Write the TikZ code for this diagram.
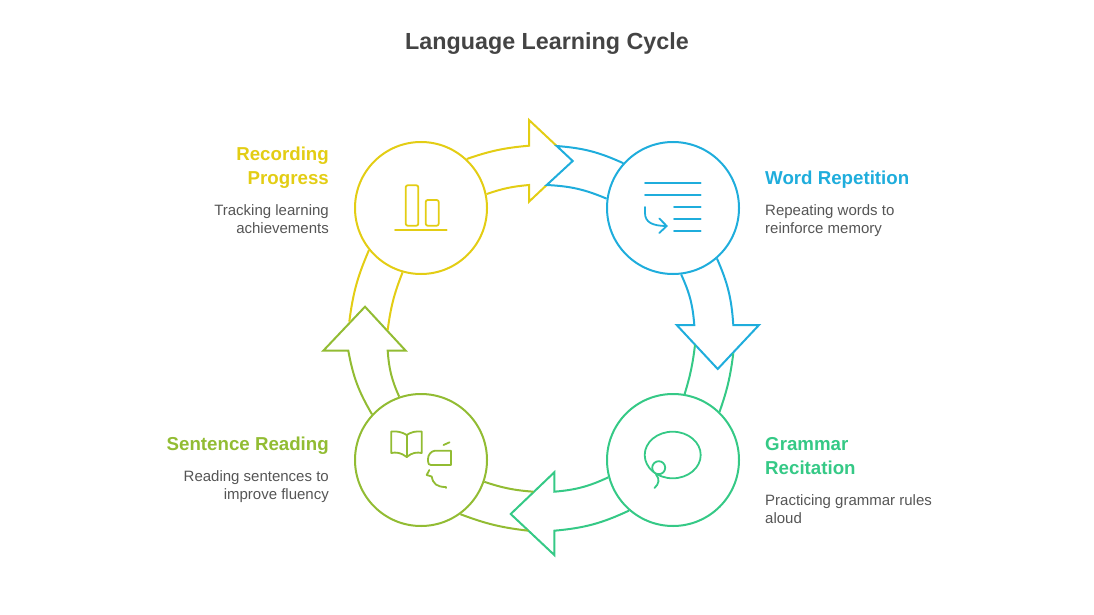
\documentclass[tikz,border=0pt]{standalone}
\usepackage{fontspec}
\setmainfont{Liberation Sans}
\definecolor{recordcol}{HTML}{E3CD14}
\definecolor{wordcol}{HTML}{1FADDC}
\definecolor{grammarcol}{HTML}{35C986}
\definecolor{sentencecol}{HTML}{92BC33}
\definecolor{bodycol}{HTML}{555555}
\definecolor{titlecol}{HTML}{444444}
\tikzset{
  stage/.style={draw, circle, minimum size=132pt, inner sep=0pt, fill=none, line width=2pt},
  cyclearrow/.style={line width=2pt, line join=miter},
  glyph/.style={line width=1.8pt, line cap=round, line join=round},
  heading/.style={inner sep=0pt, font=\fontsize{18.7}{24}\selectfont\bfseries},
  blurb/.style={inner sep=0pt, text=bodycol, font=\fontsize{15}{18}\selectfont},
}

\begin{document}
\begin{tikzpicture}[x=1pt,y=-1pt]
  \useasboundingbox (0,0) rectangle (1094,615);

  \node [inner sep=0pt, text=titlecol, font=\fontsize{23.3}{28}\selectfont\bfseries, anchor=base]
    (title) at (547,50) {Language Learning Cycle};

  \node [stage, draw=recordcol] (record) at (421,208) {};
  \node [stage, draw=wordcol] (word) at (673,208) {};
  \node [stage, draw=grammarcol] (grammar) at (673,460) {};
  \node [stage, draw=sentencecol] (sentence) at (421,460) {};

  % yellow arrow, its tip sits under the blue one
  \draw [cyclearrow, recordcol]
  (record.47) to[bend left=7] (529,145.7) -- (529,120) -- (556.7,146);
  \draw [cyclearrow, recordcol]
  (record.12) to[bend left=7] (529,185) -- (529,201.7) -- (546.7,185);

  % blue arrow
  \draw [cyclearrow, wordcol]
  (word.138) to[bend right=10] (556.7,146) -- (572.7,161) -- (546.7,185) to[bend left=10] (word.172);
  \draw [cyclearrow, wordcol]
  (word.-49) to[bend left=10] (733.3,325) -- (759,325) -- (717.7,369) -- (676.7,325) -- (694.3,325) to[bend right=10] (word.-83);

  % green lines and arrow
  \draw [cyclearrow, grammarcol]
  (grammar.46) to[bend right=6] (733.3,353.3);
  \draw [cyclearrow, grammarcol]
  (grammar.80) to[bend right=5] (695,345);
  \draw [cyclearrow, grammarcol]
  (grammar.-165) to[bend left=10] (554.3,491.7) -- (554.3,472.3) -- (510.7,514) -- (554.3,555) -- (554.3,530.7) to[bend right=10] (grammar.-131);

  % olive lines and arrow
  \draw [cyclearrow, sentencecol]
  (sentence.-19) to[bend right=7] (533.3,491.7);
  \draw [cyclearrow, sentencecol]
  (sentence.-54) to[bend right=7] (528.3,530.7);
  \draw [cyclearrow, sentencecol]
  (sentence.137) to[bend left=10] (348.3,350.7) -- (323.3,350.7) -- (365,306.7) -- (405.7,350.7) -- (387.7,350.7) to[bend right=10] (sentence.109);

  % yellow lines from the olive arrow
  \draw [cyclearrow, recordcol]
  (record.-141) to[bend right=8] (349.3,321.7);
  \draw [cyclearrow, recordcol]
  (record.-106) to[bend right=7] (387.7,330);

  % record icon
  \draw [glyph, recordcol, rounded corners=2pt] (405.7,185.3) rectangle (418.3,225.7);
  \draw [glyph, recordcol, rounded corners=2pt] (425.7,200) rectangle (438.7,225.7);
  \draw [glyph, recordcol] (395,230.3) -- (446.7,230.3);

  % word icon
  \draw [glyph, wordcol] (645,183.3) -- (700.7,183.3);
  \draw [glyph, wordcol] (645,195.3) -- (700.7,195.3);
  \foreach \rowy in {207.3,219.3,231}
    \draw [glyph, wordcol] (674,\rowy) -- (700.7,\rowy);
  \draw [glyph, wordcol] (645,207) -- (645,213) .. controls (645,222) and (652,226) .. (666.7,226);
  \draw [glyph, wordcol] (659.3,218.5) -- (666.7,226) -- (659.3,233);

  % grammar icon
  \draw [glyph, grammarcol] (672.7,455) ellipse (28 and 23.3);
  \draw [glyph, grammarcol, fill=white] (658.7,467.7) circle (6.5);
  \draw [glyph, grammarcol] (656,474.5) .. controls (660,479) and (659,484) .. (654.5,488);

  % sentence icon
  \draw [glyph, sentencecol] (406.7,457) .. controls (401,452.5) and (396,452) .. (391.3,453) -- (391.3,431.5)
    .. controls (397,431) and (402,432) .. (406.7,435) .. controls (411,432) and (416,431) .. (421.7,431.5)
    -- (421.7,453) .. controls (417,452) and (412,452.5) .. (406.7,457) -- cycle;
  \draw [glyph, sentencecol] (406.7,435) -- (406.7,457);
  \draw [glyph, sentencecol] (451,450.7) -- (435,450.7) .. controls (431,451) and (428,455) .. (428,459)
    -- (428,461) .. controls (428,464) and (429,465) .. (431,465) -- (451,465) -- cycle;
  \draw [glyph, sentencecol] (443.5,445) -- (449.5,442.3);
  \draw [glyph, sentencecol] (429.3,470) -- (426.7,475) -- (431.7,476.5) .. controls (433,484) and (437,487) .. (446,487) -- (446,488);

  % labels left
  \node [heading, text=recordcol, align=right, anchor=north east] (recordhead) at (329,147) {Recording\\Progress};
  \node [blurb, align=right, anchor=north east] (recordtext) at (329,204.3) {Tracking learning\\achievements};
  \node [heading, text=sentencecol, align=right, anchor=north east] (sentencehead) at (329,437) {Sentence Reading};
  \node [blurb, align=right, anchor=north east] (sentencetext) at (329,470.3) {Reading sentences to\\improve fluency};

  % labels right
  \node [heading, text=wordcol, align=left, anchor=north west] (wordhead) at (765,171) {Word Repetition};
  \node [blurb, align=left, anchor=north west] (wordtext) at (765,204.3) {Repeating words to\\reinforce memory};
  \node [heading, text=grammarcol, align=left, anchor=north west] (grammarhead) at (765,437) {Grammar\\Recitation};
  \node [blurb, align=left, anchor=north west] (grammartext) at (765,494.3) {Practicing grammar rules\\aloud};
\end{tikzpicture}
\end{document}
